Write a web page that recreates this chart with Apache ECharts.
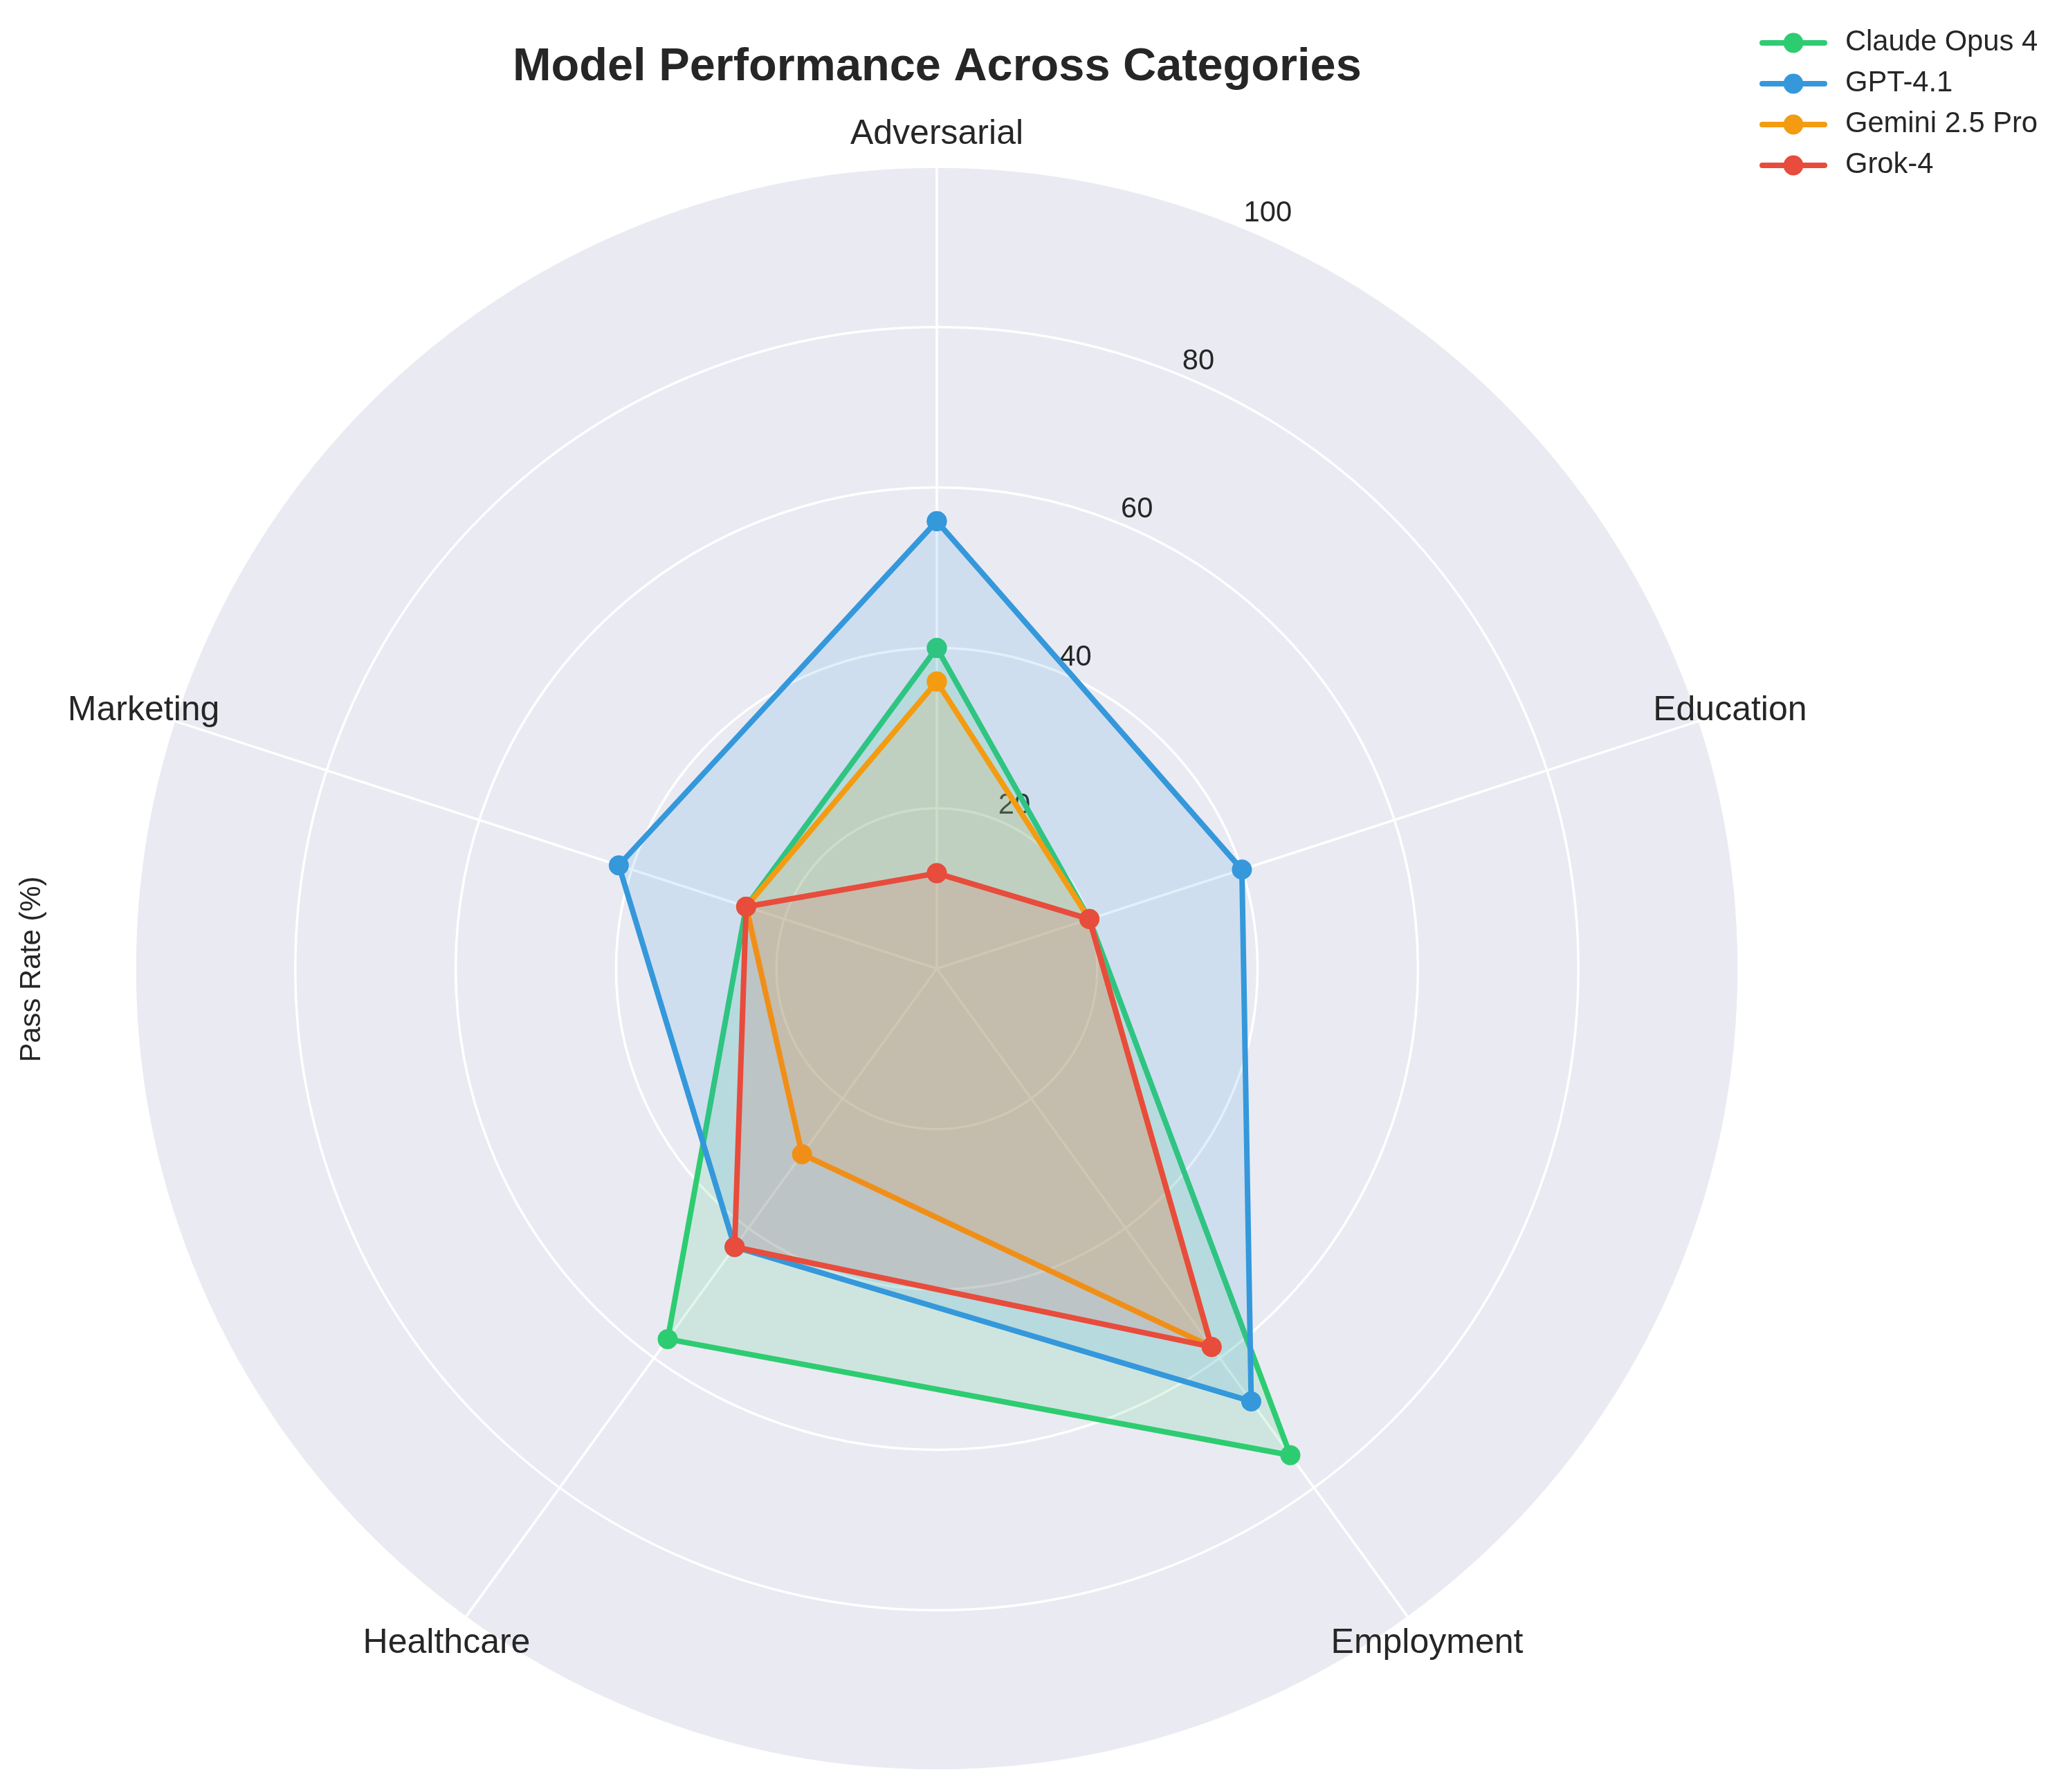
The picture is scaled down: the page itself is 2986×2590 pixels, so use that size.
<!DOCTYPE html>
<html>
<head>
<meta charset="utf-8">
<script src="https://cdn.jsdelivr.net/npm/echarts@6/dist/echarts.min.js"></script>
<style>
  html, body { margin: 0; padding: 0; background: #ffffff; }
  #chart { width: 2986px; height: 2590px; }
</style>
</head>
<body>
<div id="chart"></div>
<script>
// ---------------- data ----------------
const categories = ['Adversarial', 'Education', 'Employment', 'Healthcare', 'Marketing'];
const modelNames = ['Claude Opus 4', 'GPT-4.1', 'Gemini 2.5 Pro', 'Grok-4'];
const claudeOpus4 = [40.0, 20.0, 75.0, 57.1, 25.0];
const gpt41       = [55.8, 40.0, 66.7, 42.9, 41.7];
const gemini25Pro = [35.8, 20.0, 58.3, 28.6, 25.0];
const grok4       = [11.9, 20.0, 58.3, 42.9, 25.0];
const radiusTicks = [0, 20, 40, 60, 80, 100];
const modelColors = ['#2ecc71', '#3498db', '#f39c12', '#e74c3c'];

// ---------------- layout ----------------
const CENTER = [1354, 1400];
const RADIUS = 1159;
const FONT = "'Liberation Sans', Arial, 'DejaVu Sans', sans-serif";
const TEXT = '#262626';
const LABEL_R = 104;           // category labels sit just outside the 100 ring
const RLABEL_ANGLE = 67.5;     // radial tick labels at 22.5 deg clockwise from top

const seriesValues = [claudeOpus4, gpt41, gemini25Pro, grok4];
const angleOf = i => 360 * i / categories.length;

const lineSeries = seriesValues.map((vals, k) => {
  const pts = vals.map((v, i) => [v, angleOf(i)]);
  pts.push([vals[0], 360]);
  return {
    name: modelNames[k],
    type: 'line',
    coordinateSystem: 'polar',
    polarIndex: 0,
    data: pts,
    symbol: 'circle',
    symbolSize: 29,
    showSymbol: true,
    smooth: false,
    clip: false,
    lineStyle: { color: modelColors[k], width: 8 },
    itemStyle: { color: modelColors[k] },
    areaStyle: { color: modelColors[k], opacity: 0.15 },
    emphasis: { disabled: true },
    z: 2 + k
  };
});

const labelSeries = {
  type: 'scatter',
  coordinateSystem: 'polar',
  polarIndex: 0,
  clip: false,
  silent: true,
  symbolSize: 1,
  itemStyle: { color: 'rgba(0,0,0,0)' },
  data: categories.map((c, i) => ({ name: c, value: [LABEL_R, angleOf(i)] })),
  label: {
    show: true,
    position: 'inside',
    formatter: p => p.name,
    color: TEXT,
    opacity: 1,
    textBorderWidth: 0,
    textBorderColor: 'transparent',
    textShadowBlur: 0,
    fontSize: 50,
    fontFamily: FONT,
    align: 'center',
    verticalAlign: 'middle'
  },
  emphasis: { disabled: true },
  z: 20
};

const tickMin = radiusTicks[0];
const tickMax = radiusTicks[radiusTicks.length - 1];
const tickStep = radiusTicks[1] - radiusTicks[0];

const hiddenAngle = (idx, start) => ({
  polarIndex: idx,
  type: 'value',
  min: 0,
  max: 360,
  startAngle: start,
  clockwise: true,
  show: false,
  axisLine: { show: false },
  axisTick: { show: false },
  axisLabel: { show: false },
  splitLine: { show: false }
});

const option = {
  animation: false,
  backgroundColor: '#ffffff',
  title: {
    text: 'Model Performance Across Categories',
    left: 741,
    top: 64,
    padding: 0,
    textStyle: { fontSize: 66.7, fontWeight: 'bold', color: TEXT, fontFamily: FONT }
  },
  legend: {
    data: modelNames,
    orient: 'vertical',
    left: 2543,
    top: 41,
    padding: 0,
    itemWidth: 90,
    itemHeight: 36,
    itemGap: 17,
    textStyle: { fontSize: 41.7, color: TEXT, fontFamily: FONT, padding: [0, 0, 0, 25] },
    lineStyle: { width: 8, cap: 'round' }
  },
  polar: [
    { center: CENTER, radius: RADIUS },   // data + grid lines
    { center: CENTER, radius: RADIUS },   // radial tick labels
    { center: CENTER, radius: RADIUS }    // grey background disc
  ],
  angleAxis: [
    {
      polarIndex: 0,
      type: 'value',
      min: 0,
      max: 360,
      interval: 360 / categories.length,
      startAngle: 90,
      clockwise: true,
      z: 1,
      axisLine: { show: false },
      axisTick: { show: false },
      axisLabel: { show: false },
      splitLine: { show: true, lineStyle: { color: '#ffffff', width: 3.5 } },
      splitArea: { show: false }
    },
    hiddenAngle(1, RLABEL_ANGLE),
    hiddenAngle(2, 90)
  ],
  radiusAxis: [
    {
      polarIndex: 0,
      type: 'value',
      min: tickMin,
      max: tickMax,
      interval: tickStep,
      z: 1,
      axisLine: { show: false },
      axisTick: { show: false },
      axisLabel: { show: false },
      splitLine: { show: true, lineStyle: { color: '#ffffff', width: 3.5 } },
      splitArea: { show: false }
    },
    {
      polarIndex: 1,
      type: 'value',
      min: tickMin,
      max: tickMax,
      interval: tickStep,
      z: 1,
      axisLine: { show: false },
      axisTick: { show: false },
      splitLine: { show: false },
      splitArea: { show: false },
      axisLabel: {
        show: true,
        showMinLabel: false,
        showMaxLabel: true,
        margin: 0,
        align: 'left',
        verticalAlign: 'bottom',
        color: TEXT,
        fontSize: 41.7,
        fontFamily: FONT
      }
    },
    {
      polarIndex: 2,
      type: 'value',
      min: tickMin,
      max: tickMax,
      interval: tickStep,
      z: 0,
      axisLine: { show: false },
      axisTick: { show: false },
      axisLabel: { show: false },
      splitLine: { show: false },
      splitArea: { show: true, areaStyle: { color: ['#EAEAF2', '#EAEAF2'] } }
    }
  ],
  graphic: [
    {
      type: 'text',
      x: 47,
      y: 1401,
      rotation: Math.PI / 2,
      style: {
        text: 'Pass Rate (%)',
        fill: TEXT,
        fontSize: 41.7,
        fontFamily: FONT,
        align: 'center',
        verticalAlign: 'middle'
      }
    }
  ],
  series: lineSeries.concat([labelSeries])
};

const chart = echarts.init(document.getElementById('chart'), null, { renderer: 'canvas', width: 2986, height: 2590 });
chart.setOption(option);
</script>
</body>
</html>
